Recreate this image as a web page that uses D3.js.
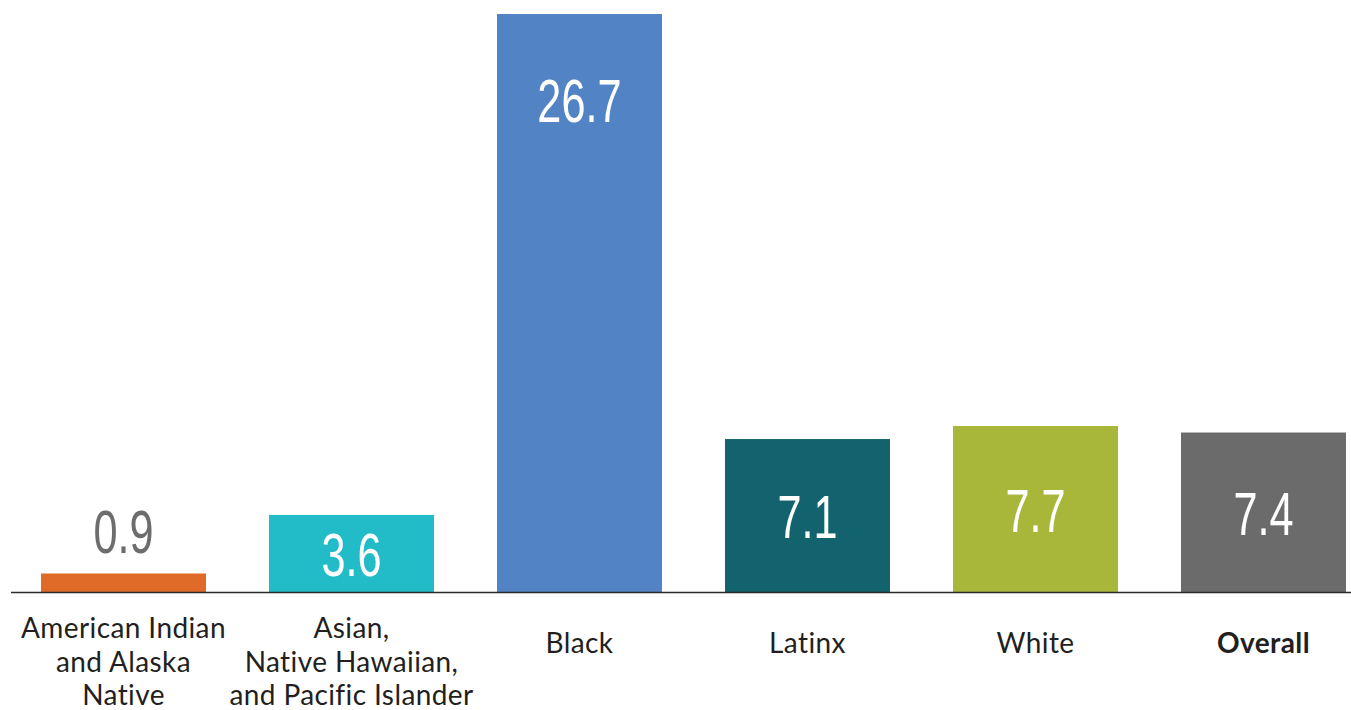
<!DOCTYPE html>
<html><head><meta charset="utf-8">
<script src="https://cdn.jsdelivr.net/npm/d3@7"></script>
<style>body{margin:0;background:#fff}svg{display:block}</style>
</head><body>
<svg id="c" width="1351" height="710"></svg>
<script>
const categories = [
  ["American Indian","and Alaska","Native"],
  ["Asian,","Native Hawaiian,","and Pacific Islander"],
  ["Black"],
  ["Latinx"],
  ["White"],
  ["Overall"]
];
const values = [0.9, 3.6, 26.7, 7.1, 7.7, 7.4];
const labels = ["0.9","3.6","26.7","7.1","7.7","7.4"];
const colors = ["#E06A27","#21BCC8","#5283C4","#12636E","#A8B73A","#6B6B6B"];

const svg = d3.select("#c");
const base = 593;
const x = d3.scaleBand().domain(d3.range(values.length)).range([9.5, 1377.5])
  .paddingInner(63/228).paddingOuter(63/456);
const y = d3.scaleLinear().domain([0, 26.7]).range([base, 14]);

svg.selectAll("rect.bar").data(values).join("rect")
  .attr("class","bar")
  .attr("x",(d,i)=>x(i)).attr("width",x.bandwidth())
  .attr("y",d=>y(d)).attr("height",d=>base-y(d))
  .attr("fill",(d,i)=>colors[i]);

svg.append("line").attr("x1",11).attr("x2",1351).attr("y1",592.5).attr("y2",592.5)
  .attr("stroke","#2b2b2b").attr("stroke-width",1.3);

// value labels
svg.selectAll("text.val").data(values).join("text")
  .attr("class","val")
  .attr("transform",(d,i)=>{
    const cx = x(i)+x.bandwidth()/2;
    let by;
    const h = base - y(d);
    if (h < 40) by = y(d) - 20;
    else if (d > 20) by = y(d) + 108;
    else by = (y(d)+base)/2 + 22;
    return `translate(${cx},${by}) scale(0.71,1)`;
  })
  .attr("text-anchor","middle")
  .attr("font-family","'Liberation Sans',sans-serif")
  .attr("font-size",61)
  .attr("fill",(d,i)=> (base-y(d))<40 ? "#6d6d6d" : "#ffffff")
  .text((d,i)=>labels[i]);

// category labels
const g = svg.selectAll("text.cat").data(categories).join("text")
  .attr("class","cat")
  .attr("text-anchor","middle")
  .attr("font-family","Lato, 'Open Sans', sans-serif")
  .attr("font-size",28)
  .attr("letter-spacing",0.4)
  .attr("fill","#231f20")
  .attr("font-weight",(d,i)=> i===categories.length-1 ? "bold" : "normal");
g.each(function(lines,i){
  const t = d3.select(this);
  const cx = x(i)+x.bandwidth()/2;
  const y0 = lines.length===1 ? 653 : 638;
  lines.forEach((l,j)=>{
    t.append("tspan").attr("x",cx).attr("y",y0+j*33.5).text(l);
  });
});
</script>
</body></html>
